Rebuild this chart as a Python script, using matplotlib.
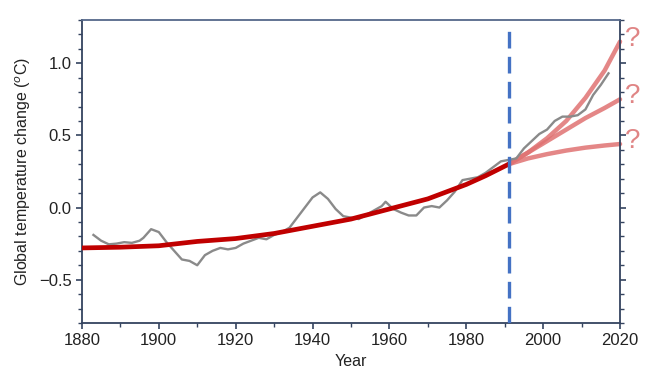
import matplotlib
matplotlib.use("Agg")
import matplotlib.pyplot as plt
from matplotlib.ticker import MultipleLocator

plt.rcParams['font.family'] = ['Liberation Sans', 'DejaVu Sans']

# Observed (smoothed) temperature anomaly
obs_years = [1883, 1885, 1887, 1889, 1891, 1893, 1895, 1896, 1898, 1900, 1902, 1904, 1906, 1908,
             1910, 1912, 1914, 1916, 1918, 1920, 1922, 1924, 1926, 1928, 1930, 1932, 1934, 1936,
             1938, 1940, 1942, 1944, 1946, 1948, 1950, 1952, 1954, 1956, 1958, 1959, 1961, 1963,
             1965, 1967, 1969, 1971, 1973, 1975, 1977, 1979, 1981, 1983, 1985, 1987, 1989, 1991,
             1993, 1995, 1997, 1999, 2001, 2003, 2005, 2007, 2009, 2011, 2013, 2015, 2017]
obs_vals = [-0.19, -0.23, -0.255, -0.25, -0.24, -0.245, -0.23, -0.21, -0.15, -0.17, -0.24, -0.30,
            -0.36, -0.37, -0.40, -0.33, -0.30, -0.28, -0.29, -0.28, -0.25, -0.23, -0.21, -0.22,
            -0.19, -0.17, -0.14, -0.07, 0.0, 0.07, 0.105, 0.06, -0.01, -0.06, -0.07, -0.08, -0.05,
            -0.02, 0.01, 0.04, -0.01, -0.035, -0.055, -0.055, 0.0, 0.01, 0.0, 0.05, 0.11, 0.19,
            0.2, 0.21, 0.24, 0.28, 0.32, 0.33, 0.34, 0.41, 0.46, 0.51, 0.54, 0.60, 0.63, 0.63,
            0.64, 0.68, 0.78, 0.85, 0.93]

# Smooth trend up to 1991
trend_years = [1880, 1890, 1900, 1910, 1920, 1930, 1940, 1950, 1960, 1970, 1980, 1985, 1991]
trend_vals = [-0.28, -0.275, -0.265, -0.235, -0.215, -0.18, -0.13, -0.08, -0.01, 0.06, 0.16, 0.22, 0.30]

# Projections from 1991
proj_years = [1991, 1996, 2001, 2006, 2011, 2016, 2020]
proj_high = [0.30, 0.38, 0.48, 0.60, 0.76, 0.95, 1.15]
proj_mid = [0.30, 0.38, 0.46, 0.54, 0.62, 0.69, 0.75]
proj_low = [0.30, 0.34, 0.37, 0.395, 0.415, 0.43, 0.44]

split_year = 1991

fig = plt.figure(figsize=(6.66, 3.91), dpi=100)
ax = fig.add_axes([0.123, 0.174, 0.808, 0.775])

ax.plot(obs_years, obs_vals, color='#8a8a8a', lw=1.7, zorder=3)
ax.plot(trend_years, trend_vals, color='#c00000', lw=3.4, solid_capstyle='round', zorder=4)
for p in (proj_high, proj_mid, proj_low):
    ax.plot(proj_years, p, color='#e07272', alpha=0.85, lw=3.2, solid_capstyle='round',
            zorder=2, clip_on=False)
    ax.text(2021.3, p[-1] + 0.02, '?', color='#e08585', fontsize=20, va='center', ha='left')

ax.axvline(split_year, ymin=0, ymax=0.985, color='#4472c4', lw=2.4, dashes=(5, 2.5), zorder=5)

ax.set_xlim(1880, 2020)
ax.set_ylim(-0.8, 1.3)
ax.xaxis.set_major_locator(MultipleLocator(20))
ax.xaxis.set_minor_locator(MultipleLocator(10))
ax.yaxis.set_major_locator(MultipleLocator(0.5))
ax.yaxis.set_minor_locator(MultipleLocator(0.1))

spine_col = '#34435f'
for s in ax.spines.values():
    s.set_color(spine_col)
    s.set_linewidth(1.3)
ax.spines['top'].set_color('#55688a')

ax.tick_params(axis='both', which='both', colors=spine_col, labelcolor='#222222',
               direction='out', labelsize=12)
ax.tick_params(which='major', length=4, width=1.2)
ax.tick_params(which='minor', length=3, width=1.0)
ax.xaxis.set_ticks_position('bottom')
ax.yaxis.set_ticks_position('both')

ax.set_xlabel('Year', fontsize=11.5, color='#222222')
ax.set_ylabel('Global temperature change ($^o$C)', fontsize=11.5, color='#222222')

fig.savefig('out.png', dpi=100)
